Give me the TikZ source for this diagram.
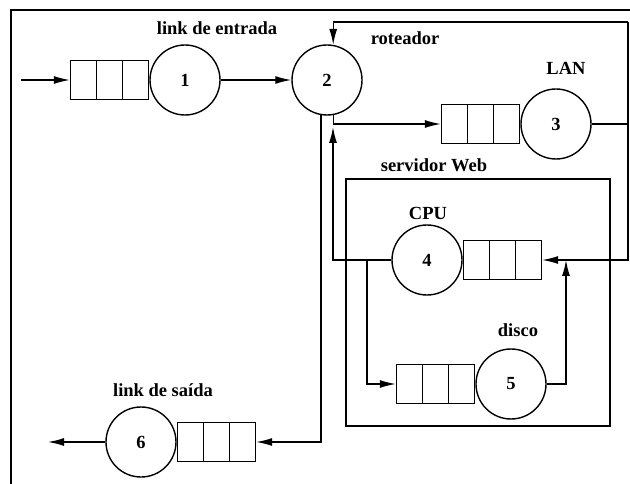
\documentclass[tikz,border=0pt]{standalone}
\usepackage{fontspec}
\setmainfont{Liberation Serif}
\usetikzlibrary{arrows.meta,positioning,calc}
\tikzstyle{estacao}=[circle, draw, minimum size=70pt, inner sep=0pt]
\tikzstyle{fila}=[rectangle, draw, minimum width=78pt, minimum height=39pt, inner sep=0pt,
  path picture={\foreach \f in {1,2}
    \draw ($(path picture bounding box.north west)!\f/3!(path picture bounding box.north east)$)
       -- ($(path picture bounding box.south west)!\f/3!(path picture bounding box.south east)$);}]
\newcommand{\estacao}{\node[estacao]}
\newcommand{\fila}{\node[fila]}

\begin{document}
\begin{tikzpicture}[x=1pt, y=-1pt, line width=1.4pt, >={Latex[length=16pt,width=8pt]},
  font=\fontsize{18.5}{22}\selectfont\bfseries]
\useasboundingbox (0,0) rectangle (630,484);
\draw (11,484) -- (11,10) -- (630,10);
% estacoes e filas
\estacao (c1) at (185,80) {1};
\estacao (c2) at (327,80) {2};
\estacao (c3) at (556,124) {3};
\estacao (c4) at (427,260) {4};
\estacao (c5) at (511,384) {5};
\estacao (c6) at (141,442) {6};
\fila (q1) [left=0pt of c1] {};
\fila (q3) [left=0pt of c3] {};
\fila (q4) [right=0pt of c4] {};
\fila (q5) [left=0pt of c5] {};
\fila (q6) [right=0pt of c6] {};
\node[draw, minimum width=264pt, minimum height=247pt] (web) at (478,302.5) {};
% rotulos
\node (lentrada) at (217,28) {link de entrada};
\node (lroteador) at (405,38) {roteador};
\node (llan) at (566,68) {LAN};
\node (lweb) at (434,165) {servidor Web};
\node (lcpu) at (428,213) {CPU};
\node (ldisco) at (518,330) {disco};
\node (lsaida) at (163,390) {link de saída};
% pontos de juncao
\coordinate (entra) at (21,80);
\coordinate (sai) at (48,442);
\coordinate (lan) at (628,124);
\coordinate (topo) at (628,22);
\coordinate (j2) at (333,124);
\coordinate (j4) at (367,260);
\coordinate (j5) at (566,260);
% ligacoes
\draw[->] (entra) -- (q1);
\draw[->] (c1) -- (c2);
\draw[->] (c2.280) |- (q3);
\draw (c3) -- (lan) -- (topo);
\draw[->] (topo) -| (c2.80);
\draw[->] (lan) |- (q4);
\draw[->, shorten >=3pt] (c4) -| (j2);
\draw[->] (j4) |- (q5);
\draw[->] (c5) -| (j5);
\draw[->] (c2.260) |- (q6);
\draw[->] (c6) -- (sai);
\end{tikzpicture}
\end{document}
